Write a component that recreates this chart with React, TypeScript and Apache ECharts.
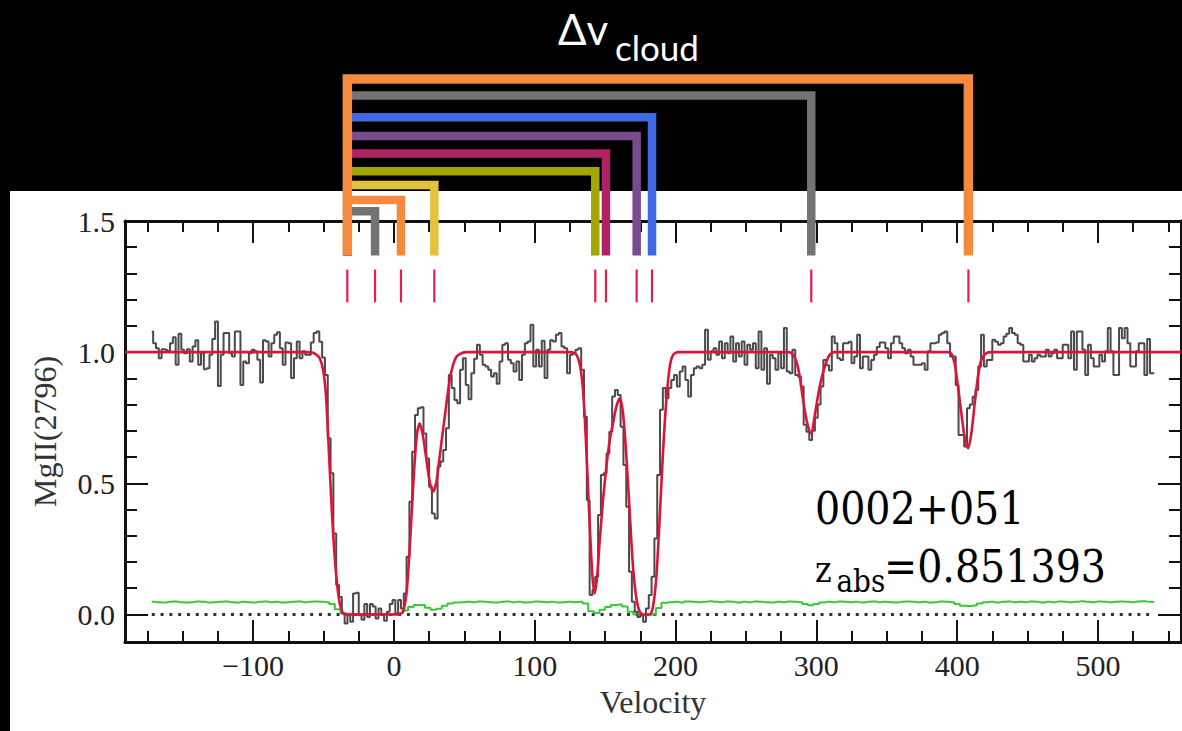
import React, { useEffect, useRef } from 'react';
import * as echarts from 'echarts';

// ---------- DATA ----------
// Observed MgII 2796 flux, uniform 2 km/s pixels starting at -172 km/s
const fluxStart = -172;
const fluxStep = 2;
const fluxValues = [
  1.079, 1.034, 1.015, 0.977, 1.011, 1.009, 1.003, 1.034, 1.057, 0.952,
  1.070, 1.009, 0.996, 1.011, 0.964, 1.022, 1.045, 0.952, 0.996, 0.935,
  0.939, 0.990, 1.050, 1.117, 0.871, 0.990, 1.073, 1.073, 0.996, 0.983,
  1.079, 1.079, 0.875, 0.964, 0.958, 0.996, 1.009, 1.003, 0.971, 0.884,
  1.045, 1.041, 0.983, 1.034, 1.066, 1.076, 1.015, 0.952, 1.037, 1.034,
  0.901, 0.977, 1.041, 0.977, 1.003, 0.990, 0.990, 1.037, 1.073, 1.079,
  1.04, 0.98, 0.913, 0.672, 0.538, 0.309, 0.112, 0.067, 0.004, -0.034,
  -0.003, -0.028, 0.08, 0.083, -0.003, -0.02, 0.04, -0.01, 0.04, 0.03,
  -0.015, 0.023, 0.0, -0.024, 0.01, 0.04, 0.055, 0.004, 0.055, 0.023,
  0.08, 0.22, 0.43, 0.62, 0.76, 0.786, 0.79, 0.69, 0.595, 0.487,
  0.385, 0.366, 0.564, 0.583, 0.627, 0.71, 0.913, 0.863, 0.818, 0.805,
  0.933, 0.977, 0.875, 0.82, 0.92, 0.975, 1.028, 0.99, 0.952, 0.945,
  0.933, 0.907, 0.92, 0.88, 0.964, 1.028, 1.034, 0.971, 0.958, 0.926,
  0.964, 0.894, 0.99, 1.034, 1.041, 1.104, 0.945, 1.009, 0.945, 1.043,
  0.901, 1.009, 1.045, 1.041, 1.066, 1.073, 1.022, 1.015, 0.92, 0.99,
  0.996, 1.009, 1.015, 0.933, 0.754, 0.436, 0.074, 0.093, 0.144, 0.379,
  0.532, 0.538, 0.614, 0.697, 0.831, 0.856, 0.837, 0.716, 0.57, 0.411,
  0.163, 0.048, 0.01, -0.01, -0.003, -0.028, 0.023, 0.074, 0.144, 0.29,
  0.532, 0.78, 0.863, 0.824, 0.863, 0.894, 0.913, 0.869, 0.926, 0.945,
  0.894, 0.831, 0.913, 0.939, 0.945, 0.939, 0.952, 1.085, 0.971, 1.003,
  1.015, 0.99, 1.041, 0.977, 1.034, 0.996, 1.06, 0.964, 1.034, 0.983,
  1.041, 0.952, 1.028, 1.009, 1.034, 0.939, 1.079, 0.933, 1.015, 0.88,
  0.99, 0.977, 0.933, 0.996, 0.939, 1.092, 0.926, 0.92, 1.009, 0.913,
  0.907, 0.869, 0.723, 0.697, 0.665, 0.70, 0.75, 0.80, 0.869, 0.97,
  0.95, 0.93, 1.06, 1.034, 0.977, 0.97, 1.034, 1.034, 1.04, 0.958,
  0.983, 1.066, 0.939, 0.983, 0.983, 0.933, 0.97, 0.99, 1.02, 1.037,
  1.037, 1.015, 0.977, 1.034, 1.06, 1.06, 1.034, 1.015, 0.996, 1.009,
  0.983, 0.952, 0.952, 0.952, 0.958, 0.933, 1.003, 1.034, 1.034, 1.037,
  1.066, 1.073, 1.079, 1.034, 0.983, 0.983, 0.875, 0.684, 0.684, 0.64,
  0.786, 0.80, 0.83, 0.856, 0.945, 1.066, 0.945, 0.97, 0.97, 1.047,
  1.04, 1.028, 1.034, 1.06, 1.07, 1.092, 1.073, 1.066, 1.034, 1.028,
  0.964, 0.964, 0.99, 0.964, 0.977, 0.99, 0.983, 0.983, 1.009, 0.983,
  0.996, 1.009, 0.977, 0.977, 1.028, 1.028, 0.977, 1.079, 0.933, 1.079,
  1.079, 1.009, 0.913, 1.028, 0.977, 0.945, 0.945, 0.99, 0.964, 1.003,
  1.092, 1.003, 0.913, 0.913, 1.092, 1.053, 1.092, 1.034, 0.945, 0.945,
  1.003, 1.034, 1.034, 0.913, 1.05, 0.92, 0.92,
];

// Error spectrum, sampled every 4 km/s from -172 km/s
const errorStart = -172;
const errorStep = 4;
const errorValues = [
  0.048, 0.047, 0.046, 0.048, 0.049, 0.047, 0.046, 0.047, 0.049, 0.048,
  0.046, 0.047, 0.048, 0.049, 0.047, 0.046, 0.048, 0.047, 0.046, 0.048,
  0.049, 0.047, 0.048, 0.046, 0.047, 0.048, 0.049, 0.047, 0.048, 0.049,
  0.048, 0.047, 0.040, 0.020, 0.006, 0.003, 0.002, 0.002, 0.002, 0.002,
  0.002, 0.002, 0.002, 0.002, 0.004, 0.015, 0.028, 0.036, 0.036, 0.026,
  0.018, 0.022, 0.033, 0.042, 0.046, 0.047, 0.048, 0.047, 0.049, 0.048,
  0.047, 0.046, 0.048, 0.049, 0.047, 0.048, 0.046, 0.047, 0.049, 0.048,
  0.047, 0.048, 0.046, 0.047, 0.048, 0.047, 0.048, 0.042, 0.012, 0.006,
  0.018, 0.028, 0.036, 0.038, 0.030, 0.010, 0.000, -0.002, -0.002, 0.000,
  0.025, 0.045, 0.047, 0.048, 0.046, 0.049, 0.048, 0.047, 0.048, 0.050,
  0.048, 0.047, 0.049, 0.048, 0.046, 0.048, 0.047, 0.049, 0.048, 0.047,
  0.046, 0.048, 0.047, 0.049, 0.048, 0.047, 0.040, 0.035, 0.040, 0.046,
  0.048, 0.047, 0.049, 0.048, 0.047, 0.048, 0.046, 0.048, 0.049, 0.047,
  0.048, 0.047, 0.046, 0.048, 0.049, 0.048, 0.047, 0.048, 0.046, 0.047,
  0.049, 0.048, 0.047, 0.040, 0.033, 0.032, 0.034, 0.042, 0.047, 0.048,
  0.046, 0.048, 0.049, 0.047, 0.048, 0.047, 0.049, 0.048, 0.046, 0.048,
  0.047, 0.049, 0.048, 0.047, 0.048, 0.050, 0.048, 0.047, 0.049, 0.048,
  0.047, 0.048, 0.049, 0.048, 0.047, 0.049, 0.050, 0.048, 0.047,
];

// Voigt-profile model fit [velocity, flux]
const modelCurve = [
  [-191, 1], [-62, 1], [-58, 0.999], [-55, 0.99], [-52.7, 0.977], [-50.3, 0.933],
  [-48.4, 0.844], [-46.8, 0.69], [-45.1, 0.5], [-43.2, 0.31], [-40.9, 0.144],
  [-38.5, 0.042], [-36.1, 0.004], [-34, 0], [2, 0], [4.1, 0.002], [6.5, 0.01],
  [8.9, 0.08], [10.7, 0.207], [12.6, 0.385], [14.5, 0.564], [16.4, 0.69],
  [18.3, 0.729], [20.7, 0.678], [23.1, 0.589], [25.4, 0.506], [27.8, 0.468],
  [30.2, 0.506], [32.5, 0.602], [34.9, 0.704], [37.3, 0.805], [39.6, 0.894],
  [42, 0.952], [44.4, 0.983], [48, 0.996], [51.5, 1], [126, 1], [129.6, 0.99],
  [132, 0.952], [133.9, 0.88], [135.5, 0.754], [137.2, 0.564], [139.1, 0.335],
  [141, 0.144], [142.6, 0.08], [144.3, 0.144], [146.2, 0.284], [148.5, 0.436],
  [150.9, 0.564], [153.3, 0.665], [155.6, 0.729], [158, 0.793], [160.4, 0.824],
  [162.7, 0.767], [165.1, 0.602], [167.5, 0.385], [169.8, 0.182], [172.2, 0.061],
  [174.6, 0.01], [177, 0], [181.7, 0], [184, 0.03], [186.4, 0.144], [188.8, 0.373],
  [191.2, 0.627], [193.5, 0.818], [195.9, 0.945], [198.3, 0.99], [201.8, 1],
  [280, 1], [283, 0.993], [285.9, 0.964], [288.2, 0.907], [290.6, 0.818],
  [293, 0.742], [295.3, 0.695], [296.5, 0.69], [298.9, 0.76], [302.4, 0.869],
  [306, 0.945], [309.5, 0.99], [313, 1], [393.6, 1], [395.9, 0.994], [398.2, 0.958],
  [400.6, 0.869], [403, 0.767], [405.3, 0.678], [407.8, 0.634], [410.1, 0.69],
  [412.5, 0.805], [414.8, 0.907], [417.2, 0.971], [420.7, 0.996], [424.3, 1], [559, 1],
];

// Cloud component velocities (km/s)
const cloudVelocities = [-33.1, -13.4, 5.0, 28.7, 143.0, 150.6, 172.4, 183.3, 296.4, 408.0];
// Brackets: Δv from the first cloud to each other cloud (cloud index), drawing order
const bracketClouds = [1, 2, 3, 4, 5, 6, 7, 8, 9];

const xMajorTicks = [-100, 0, 100, 200, 300, 400, 500];
const xMinorTicks = [-175, -150, -125, -75, -50, -25, 25, 50, 75, 125, 150, 175, 225, 250, 275, 325, 350, 375, 425, 450, 475, 525, 550];
const yMajorTicks = [0, 0.5, 1.0, 1.5];
const yMinorTicks = [0.1, 0.2, 0.3, 0.4, 0.6, 0.7, 0.8, 0.9, 1.1, 1.2, 1.3, 1.4];

const zeroLineRange = [-172, 540];

// ---------- LAYOUT / STYLE ----------
const X_MIN = -191;
const X_MAX = 559;
const Y_MIN = -0.105;
const Y_MAX = 1.5;
const bracketColors = ['#737373', '#F58A3F', '#E2C23F', '#A3A600', '#B02266', '#7A4A8F', '#4169E1', '#737373', '#F58A3F'];
const bracketLevels = [1.537, 1.580, 1.637, 1.690, 1.757, 1.824, 1.896, 1.978, 2.041];
const bracketBottom = 1.368;
const cloudTickRange = [1.19, 1.315];
const SERIF = '"Liberation Serif", "DejaVu Serif", serif';
const LABEL_SERIF = '"DejaVu Serif Condensed", "Liberation Serif", serif';
const TITLE_SANS = 'Lato, "Open Sans", sans-serif';
const AXIS_COLOR = '#111';

function fmtX(v: number) {
  return v < 0 ? '\u2212' + Math.abs(v) : String(v);
}

export default function App() {
  const ref = useRef<HTMLDivElement>(null);

  useEffect(() => {
    if (!ref.current) return;
    const chart = echarts.init(ref.current, undefined, { renderer: 'svg' });

    const flux = fluxValues.map((f, i) => [fluxStart + i * fluxStep, f]);
    const err = errorValues.map((f, i) => [errorStart + i * errorStep, f]);

    const baseX = {
      type: 'value',
      min: X_MIN,
      max: X_MAX,
      splitLine: { show: false },
      axisPointer: { show: false },
    };
    const baseY = {
      type: 'value',
      min: Y_MIN,
      max: Y_MAX,
      splitLine: { show: false },
    };
    const tickStyle = { color: AXIS_COLOR, width: 2 };

    const option: any = {
      animation: false,
      backgroundColor: 'transparent',
      grid: { left: 125, right: 1, top: 221, bottom: 89, containLabel: false },
      xAxis: [
        {
          ...baseX,
          position: 'bottom',
          axisLine: { show: true, onZero: false, lineStyle: { color: AXIS_COLOR, width: 3 } },
          axisTick: { show: true, inside: true, length: 22, customValues: xMajorTicks, lineStyle: tickStyle },
          axisLabel: {
            show: true, customValues: xMajorTicks, formatter: fmtX, margin: 8,
            fontFamily: SERIF, fontSize: 30, color: '#222',
          },
          name: 'Velocity',
          nameLocation: 'middle',
          nameGap: 44,
          nameTextStyle: { fontFamily: SERIF, fontSize: 32, color: '#333' },
        },
        {
          ...baseX,
          position: 'bottom',
          axisLine: { show: false, onZero: false },
          axisTick: { show: true, inside: true, length: 11, customValues: xMinorTicks, lineStyle: tickStyle },
          axisLabel: { show: false },
        },
        {
          ...baseX,
          position: 'top',
          axisLine: { show: true, onZero: false, lineStyle: { color: AXIS_COLOR, width: 3 } },
          axisTick: { show: true, inside: true, length: 22, customValues: xMajorTicks, lineStyle: tickStyle },
          axisLabel: { show: false },
        },
        {
          ...baseX,
          position: 'top',
          axisLine: { show: false, onZero: false },
          axisTick: { show: true, inside: true, length: 11, customValues: xMinorTicks, lineStyle: tickStyle },
          axisLabel: { show: false },
        },
      ],
      yAxis: [
        {
          ...baseY,
          position: 'left',
          axisLine: { show: true, onZero: false, lineStyle: { color: AXIS_COLOR, width: 3 } },
          axisTick: { show: true, inside: true, length: 23, customValues: yMajorTicks, lineStyle: tickStyle },
          axisLabel: {
            show: true, customValues: yMajorTicks, formatter: (v: number) => v.toFixed(1), margin: 10,
            fontFamily: SERIF, fontSize: 30, color: '#222',
          },
          name: 'MgII(2796)',
          nameLocation: 'middle',
          nameRotate: 90,
          nameGap: 64,
          nameTextStyle: { fontFamily: SERIF, fontSize: 32, color: '#333' },
        },
        {
          ...baseY,
          position: 'left',
          axisLine: { show: false, onZero: false },
          axisTick: { show: true, inside: true, length: 12, customValues: yMinorTicks, lineStyle: tickStyle },
          axisLabel: { show: false },
        },
        {
          ...baseY,
          position: 'right',
          axisLine: { show: true, onZero: false, lineStyle: { color: AXIS_COLOR, width: 3 } },
          axisTick: { show: true, inside: true, length: 23, customValues: yMajorTicks, lineStyle: tickStyle },
          axisLabel: { show: false },
        },
        {
          ...baseY,
          position: 'right',
          axisLine: { show: false, onZero: false },
          axisTick: { show: true, inside: true, length: 12, customValues: yMinorTicks, lineStyle: tickStyle },
          axisLabel: { show: false },
        },
      ],
      series: [
        {
          type: 'line',
          name: 'zero',
          data: zeroLineRange.map((v) => [v, 0]),
          showSymbol: false,
          lineStyle: { color: '#333', width: 3, type: [3, 5.8] },
          z: 1,
        },
        {
          type: 'line',
          name: 'error',
          data: err,
          step: 'middle',
          showSymbol: false,
          lineStyle: { color: '#38C838', width: 2 },
          z: 2,
        },
        {
          type: 'line',
          name: 'flux',
          data: flux,
          step: 'middle',
          showSymbol: false,
          lineStyle: { color: '#4a4a4a', width: 2 },
          z: 3,
        },
        {
          type: 'line',
          name: 'model',
          data: modelCurve,
          smooth: 0.25,
          showSymbol: false,
          lineStyle: { color: '#DC143C', width: 2.6 },
          z: 4,
        },
        {
          type: 'custom',
          name: 'cloudTicks',
          clip: false,
          z: 5,
          data: cloudVelocities.map((v) => [v]),
          renderItem: (params: any, api: any) => {
            const v = api.value(0);
            const p0 = api.coord([v, cloudTickRange[0]]);
            const p1 = api.coord([v, cloudTickRange[1]]);
            return {
              type: 'line',
              shape: { x1: p0[0], y1: p0[1], x2: p1[0], y2: p1[1] },
              style: { stroke: '#E0204A', lineWidth: 2.2 },
            };
          },
        },
        {
          type: 'custom',
          name: 'brackets',
          clip: false,
          z: 6,
          data: bracketClouds.map((ci, k) => [cloudVelocities[0], cloudVelocities[ci], k]),
          renderItem: (params: any, api: any) => {
            const k = api.value(2);
            const x0 = api.coord([api.value(0), 0])[0];
            const x1 = api.coord([api.value(1), 0])[0];
            const yTop = api.coord([0, bracketLevels[k]])[1];
            const yBot = api.coord([0, bracketBottom])[1];
            return {
              type: 'polyline',
              shape: { points: [[x0, yBot], [x0, yTop], [x1, yTop], [x1, yBot]] },
              style: {
                stroke: bracketColors[k], lineWidth: k === 8 ? 9.5 : 8.5, fill: null,
                lineJoin: 'miter', lineCap: 'butt',
              },
            };
          },
        },
      ],
      graphic: [
        { type: 'text', x: 558, y: 28.7, style: { text: '\u0394v', font: `42px ${TITLE_SANS}`, fill: '#fff', verticalAlign: 'middle' } },
        { type: 'text', x: 615, y: 46.5, style: { text: 'cloud', font: `35px ${TITLE_SANS}`, fill: '#fff', verticalAlign: 'middle' } },
        { type: 'text', x: 815, y: 508.8, style: { text: '0002+051', font: `44px ${LABEL_SERIF}`, fill: '#000', verticalAlign: 'middle' } },
        { type: 'text', x: 815, y: 569.6, style: { text: 'z', font: `35px ${LABEL_SERIF}`, fill: '#000', verticalAlign: 'middle' } },
        { type: 'text', x: 836.5, y: 581, style: { text: 'abs', font: `31px ${LABEL_SERIF}`, fill: '#000', verticalAlign: 'middle' } },
        { type: 'text', x: 884, y: 566.5, style: { text: '=0.851393', font: `44px ${LABEL_SERIF}`, fill: '#000', verticalAlign: 'middle' } },
      ],
    };

    chart.setOption(option);
    return () => chart.dispose();
  }, []);

  return (
    <div style={{ position: 'fixed', left: 0, top: 0, width: 1182, height: 731, background: '#000', overflow: 'hidden' }}>
      <div style={{ position: 'absolute', left: 10, top: 191, width: 1172, height: 540, background: '#fff' }} />
      <div ref={ref} style={{ position: 'absolute', left: 0, top: 0, width: 1182, height: 731 }} />
    </div>
  );
}
